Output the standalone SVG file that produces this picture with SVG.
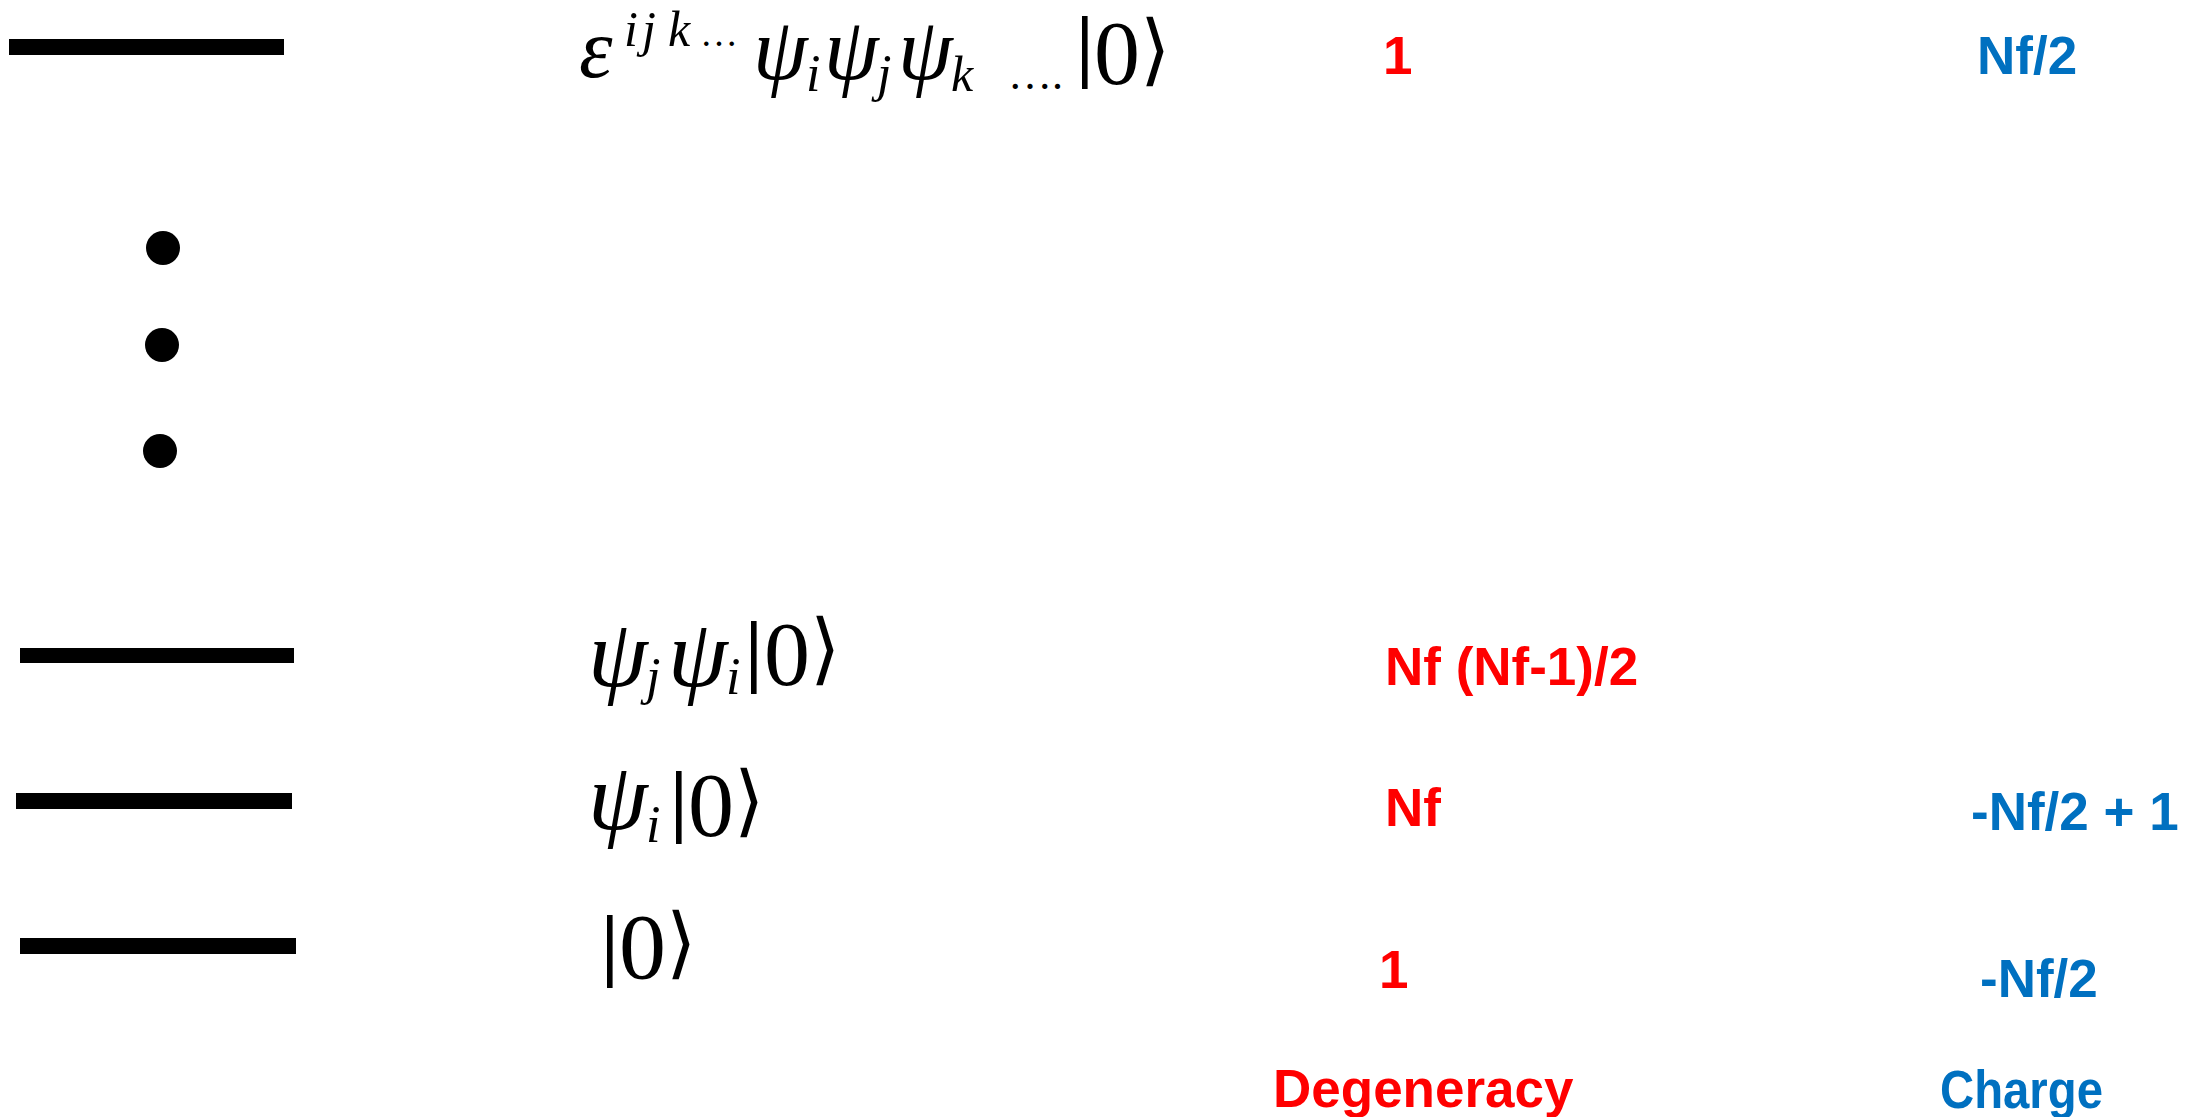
<svg xmlns="http://www.w3.org/2000/svg" width="2205" height="1117" viewBox="0 0 2205 1117">
<style>
.bar{fill:#000}
.dot{fill:#000}
.mi{font-family:"Liberation Serif","DejaVu Serif",serif;font-style:italic;fill:#000}
.up{font-style:normal}
.vb{font-style:normal;font-weight:bold}
.br{font-style:normal;font-family:"DejaVu Serif","Liberation Serif",serif}
.deg{font-family:"Liberation Sans",Arial,sans-serif;font-weight:bold;fill:#FF0000;font-size:53px}
.chg{font-family:"Liberation Sans",Arial,sans-serif;font-weight:bold;fill:#0070C0;font-size:53px}
</style>
<rect width="2205" height="1117" fill="#fff"/>
<g id="level-top">
<rect class="bar" x="9" y="39" width="275" height="16"/>
<text class="mi"><tspan x="579" y="77" font-size="85">ε</tspan><tspan x="624" y="46" font-size="50">i</tspan><tspan x="642" y="46" font-size="50">j</tspan><tspan x="668" y="46" font-size="50">k</tspan><tspan class="up" x="700" y="46" font-size="38">…</tspan><tspan x="753" y="79" font-size="88">ψ</tspan><tspan x="806" y="91" font-size="52">i</tspan><tspan x="824" y="79" font-size="88">ψ</tspan><tspan x="877" y="91" font-size="52">j</tspan><tspan x="898" y="79" font-size="88">ψ</tspan><tspan x="951" y="91" font-size="50">k</tspan><tspan class="up" x="1008" y="89" font-size="44">….</tspan><tspan class="vb" x="1076" y="72" font-size="80">|</tspan><tspan class="up" x="1094" y="84" font-size="92">0</tspan><tspan class="br" x="1140" y="76" font-size="78">⟩</tspan></text>
<text class="deg" x="1383" y="74">1</text>
<text class="chg" x="1977" y="74">Nf/2</text>
</g>
<g id="dots">
<circle class="dot" cx="163" cy="248" r="17"/>
<circle class="dot" cx="162" cy="345" r="17"/>
<circle class="dot" cx="160" cy="451" r="17"/>
</g>
<g id="level-2">
<rect class="bar" x="20" y="648" width="274" height="15"/>
<text class="mi"><tspan x="588" y="686" font-size="96">ψ</tspan><tspan x="646" y="694" font-size="52">j</tspan><tspan x="668" y="686" font-size="96">ψ</tspan><tspan x="726" y="694" font-size="52">i</tspan><tspan class="vb" x="745" y="677" font-size="80">|</tspan><tspan class="up" x="764" y="685" font-size="92">0</tspan><tspan class="br" x="810" y="675" font-size="78">⟩</tspan></text>
<text class="deg" x="1385" y="685">Nf (Nf-1)/2</text>
</g>
<g id="level-1">
<rect class="bar" x="16" y="793" width="276" height="16"/>
<text class="mi"><tspan x="588" y="829" font-size="96">ψ</tspan><tspan x="646" y="842" font-size="52">i</tspan><tspan class="vb" x="670" y="827" font-size="80">|</tspan><tspan class="up" x="688" y="836" font-size="92">0</tspan><tspan class="br" x="734" y="827" font-size="78">⟩</tspan></text>
<text class="deg" x="1385" y="826">Nf</text>
<text class="chg" x="1971" y="830" font-size="52">-Nf/2 + 1</text>
</g>
<g id="level-0">
<rect class="bar" x="20" y="938" width="276" height="16"/>
<text class="mi"><tspan class="vb" x="601" y="971" font-size="80">|</tspan><tspan class="up" x="619" y="978" font-size="94">0</tspan><tspan class="br" x="666" y="969" font-size="78">⟩</tspan></text>
<text class="deg" x="1379" y="988">1</text>
<text class="chg" x="1980" y="997">-Nf/2</text>
</g>
<g id="headers">
<text class="deg" x="1273" y="1107">Degeneracy</text>
<text class="chg" x="1940" y="1108" font-size="50" textLength="163" lengthAdjust="spacingAndGlyphs">Charge</text>
</g>
<g id="connectors"/>
</svg>
